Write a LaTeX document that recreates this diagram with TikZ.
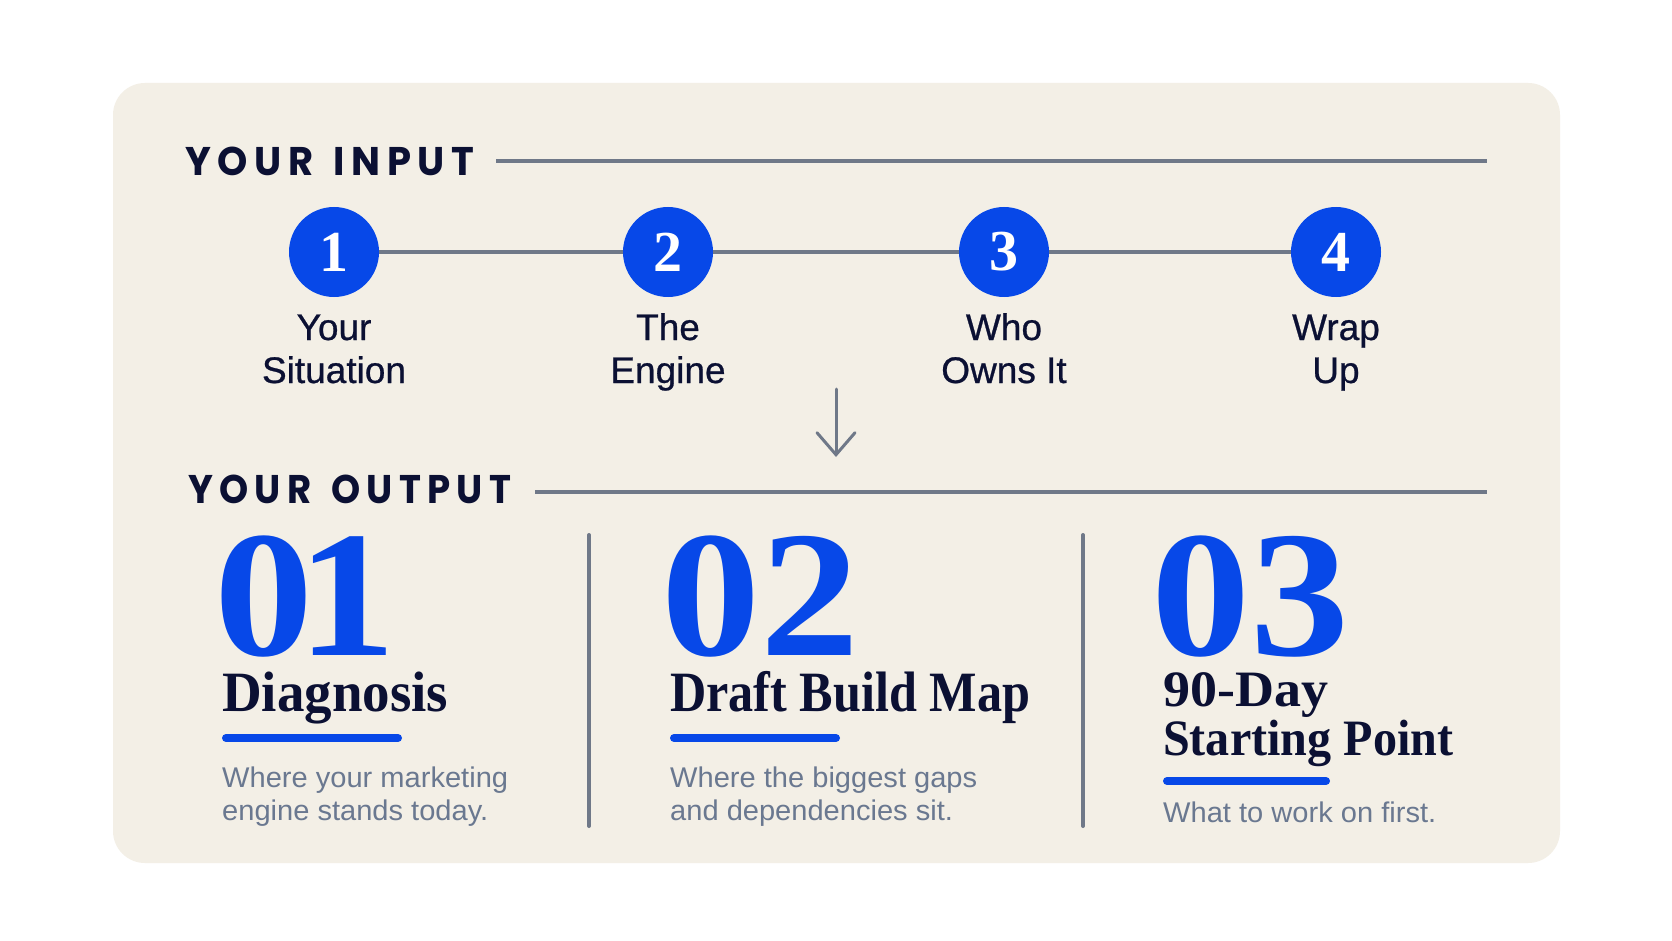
\documentclass[tikz,border=0pt]{standalone}
\usepackage{fontspec}
\usepackage{graphicx}
\usetikzlibrary{arrows.meta}
\setmainfont{Liberation Serif}
\newfontfamily\capsfont{Poppins}[LetterSpace=17, WordSpace=1.4]
\newfontfamily\labelfont{Liberation Sans}[FakeStretch=1.0, FakeBold=0.7]
\newfontfamily\descfont{Liberation Sans}[FakeStretch=1.02]
\newfontfamily\numfont{Liberation Serif}[FakeStretch=1.1]
\newfontfamily\headfont{Liberation Serif}
\definecolor{cardbg}{HTML}{F3EFE6}
\definecolor{navy}{HTML}{0B1033}
\definecolor{brandblue}{HTML}{0748E8}
\definecolor{rulegray}{HTML}{6F7888}
\definecolor{descgray}{HTML}{6A7890}
\tikzset{
  rule/.style={draw=rulegray, line width=4pt},
  divider/.style={draw=rulegray, line width=4pt, line cap=round},
  underline/.style={draw=brandblue, line width=8pt, line cap=round},
  stepcircle/.style={circle, fill=brandblue, minimum size=90pt, inner sep=0pt,
    text=white, font=\headfont\bfseries\fontsize{58}{58}\selectfont},
  steplabel/.style={anchor=base, inner sep=0pt, text=navy,
    font=\labelfont\fontsize{37}{37}\selectfont},
  sectionhead/.style={anchor=base west, inner sep=0pt, text=navy,
    font=\capsfont\bfseries\fontsize{40}{40}\selectfont},
  bignum/.style={anchor=base west, inner sep=0pt, text=brandblue,
    font=\numfont\bfseries\fontsize{180}{180}\selectfont},
  headline/.style={anchor=base west, inner sep=0pt, text=navy,
    font=\headfont\bfseries\fontsize{57}{57}\selectfont},
  headlinesm/.style={anchor=base west, inner sep=0pt, text=navy,
    font=\headfont\bfseries\fontsize{51}{51}\selectfont},
  desc/.style={anchor=base west, inner sep=0pt, text=descgray,
    font=\descfont\fontsize{28.5}{28.5}\selectfont},
  flowarrow/.style={draw=rulegray, line width=3pt, line cap=round,
    -{Straight Barb[length=22pt, width=38pt, line cap=round]}},
}
\begin{document}
\begin{tikzpicture}[x=1pt, y=-1pt]
\useasboundingbox (0,0) rectangle (1672,941);
\fill[white] (0,0) rectangle (1672,941);
% card
\fill[cardbg, rounded corners=32pt] (113,83) rectangle (1560,863);

% ---- YOUR INPUT ----
\node[sectionhead] (inhead) at (185,176) {\resizebox{289pt}{\height}{YOUR INPUT}};
\coordinate (r1a) at (496,161);
\coordinate (r1b) at (1487,161);
\draw[rule] (r1a) -- (r1b);

\node[stepcircle] (c1) at (334,252) {1};
\node[stepcircle] (c2) at (668,252) {2};
\node[stepcircle] (c3) at (1004,252) {3};
\node[stepcircle] (c4) at (1336,252) {4};
\draw[rule] (c1) -- (c2);
\draw[rule] (c2) -- (c3);
\draw[rule] (c3) -- (c4);

\node[steplabel] (l1a) at (334,340) {Your};
\node[steplabel] (l1b) at (334,383) {Situation};
\node[steplabel] (l2a) at (668,340) {The};
\node[steplabel] (l2b) at (668,383) {Engine};
\node[steplabel] (l3a) at (1004,340) {Who};
\node[steplabel] (l3b) at (1004,383) {Owns It};
\node[steplabel] (l4a) at (1336,340) {Wrap};
\node[steplabel] (l4b) at (1336,383) {Up};

% arrow
\coordinate (arrTop) at (836,389);
\coordinate (arrTip) at (836,457);
\draw[flowarrow] (arrTop) -- (arrTip);

% ---- YOUR OUTPUT ----
\node[sectionhead] (outhead) at (188,503) {\resizebox{323pt}{\height}{YOUR OUTPUT}};
\coordinate (r2a) at (535,492);
\coordinate (r2b) at (1487,492);
\draw[rule] (r2a) -- (r2b);

% dividers
\coordinate (d1a) at (589,535);
\coordinate (d1b) at (589,826);
\coordinate (d2a) at (1083,535);
\coordinate (d2b) at (1083,826);
\draw[divider] (d1a) -- (d1b);
\draw[divider] (d2a) -- (d2b);

% column 1
\node[bignum] (n1) at (214,655) {0\kern-16pt 1};
\node[headline] (h1) at (222,711) {\resizebox{226pt}{\height}{Diagnosis}};
\draw[underline] (226,738) -- (398,738);
\node[desc] (t1a) at (222,787) {Where your marketing};
\node[desc] (t1b) at (222,820) {engine stands today.};

% column 2
\node[bignum] (n2) at (661,655) {02};
\node[headline] (h2) at (670,711) {\resizebox{360pt}{\height}{Draft Build Map}};
\draw[underline] (674,738) -- (836,738);
\node[desc] (t2a) at (670,787) {Where the biggest gaps};
\node[desc] (t2b) at (670,820) {and dependencies sit.};

% column 3
\node[bignum] (n3) at (1151,655) {03};
\node[headlinesm] (h3a) at (1163,706) {\resizebox{165pt}{\height}{90-Day}};
\node[headlinesm] (h3b) at (1163,755) {\resizebox{290pt}{\height}{Starting Point}};
\draw[underline] (1167,781) -- (1326,781);
\node[desc] (t3a) at (1163,822) {What to work on first.};
\end{tikzpicture}
\end{document}
